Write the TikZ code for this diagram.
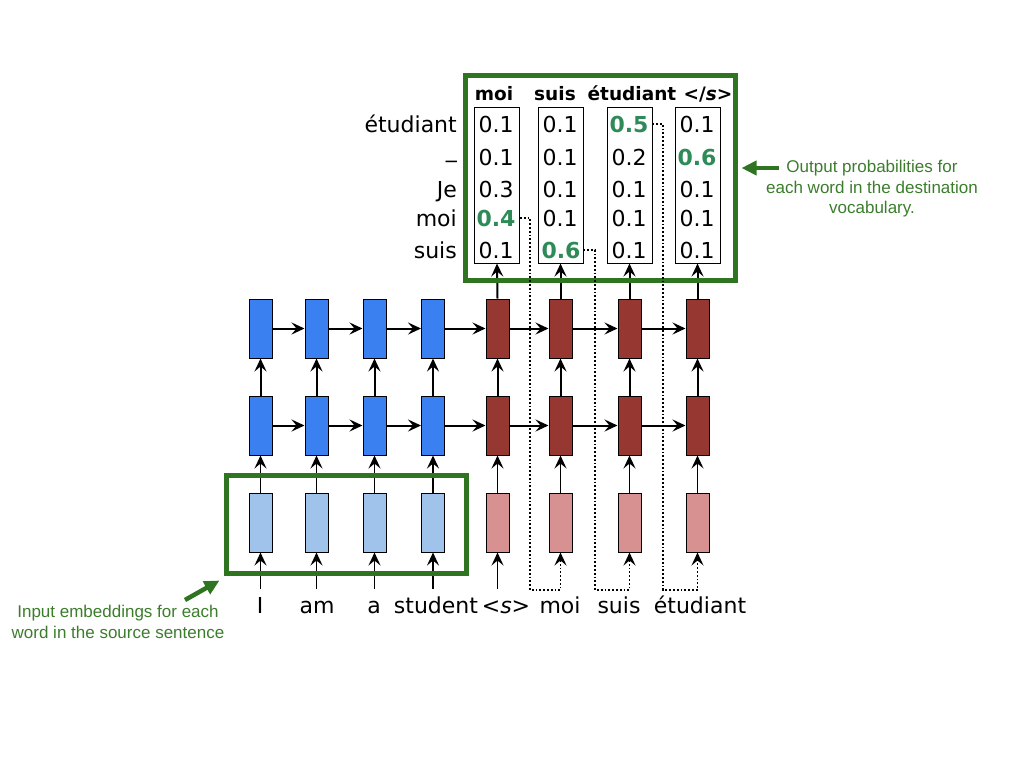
\documentclass[tikz,border=0pt]{standalone}
\usepackage{fontspec}
\setmainfont{DejaVu Sans}
\newfontfamily\annfont{Liberation Sans}
\usetikzlibrary{arrows.meta,calc}
\definecolor{encblue}{RGB}{59,128,240}
\definecolor{decred}{RGB}{150,55,50}
\definecolor{embblue}{RGB}{160,195,235}
\definecolor{embred}{RGB}{215,145,145}
\definecolor{boxgreen}{RGB}{47,116,32}
\definecolor{numgreen}{RGB}{46,139,87}
\definecolor{anngreen}{RGB}{59,125,44}
\begin{document}
\begin{tikzpicture}[x=1pt,y=-1pt,
  cell/.style={draw=black, line width=1pt, minimum width=23pt, minimum height=59pt, inner sep=0pt},
  enc/.style={cell, fill=encblue},
  dec/.style={cell, fill=decred},
  embE/.style={cell, fill=embblue},
  embD/.style={cell, fill=embred},
  arr/.style={-{Stealth[length=13pt,width=12pt,inset=5pt]}, line width=2pt},
  thinarr/.style={-{Stealth[length=13pt,width=12pt,inset=5pt]}, line width=1.8pt},
  dotarr/.style={-{Stealth[length=13pt,width=12pt,inset=5pt]}, line width=1.8pt, dotted},
  probbox/.style={draw, line width=1pt, minimum width=45pt, minimum height=156pt, inner sep=0pt},
  num/.style={font=\fontsize{22}{26}\selectfont, inner sep=0pt, anchor=base},
  gnum/.style={num, font=\fontsize{22}{26}\selectfont\bfseries, text=numgreen},
  rowlab/.style={font=\fontsize{22}{26}\selectfont, inner sep=0pt, anchor=base east},
  head/.style={font=\fontsize{18.5}{22}\selectfont\bfseries, inner sep=0pt, anchor=base},
  word/.style={font=\fontsize{22}{26}\selectfont, inner sep=0pt, anchor=base},
  greenbox/.style={draw=boxgreen, line width=5pt, inner sep=0pt},
  gbig/.style={-{Triangle[length=15pt,width=14pt]}, line width=4.5pt, draw=boxgreen},
  ann/.style={font=\annfont\fontsize{17}{20.5}\selectfont, text=anngreen, align=center, inner sep=0pt}
]
\useasboundingbox (0,0) rectangle (1024,768);

% ---------- RNN cells ----------
\foreach \i/\x in {1/260.5,2/316.5,3/374.5,4/433} {
  \node[enc]  (et\i) at (\x,328.5) {};
  \node[enc]  (em\i) at (\x,425.5) {};
  \node[embE] (ee\i) at (\x,522.5) {};
}
\foreach \i/\x in {1/497.5,2/560.5,3/629.5,4/697.5} {
  \node[dec]  (dt\i) at (\x,328.5) {};
  \node[dec]  (dm\i) at (\x,425.5) {};
  \node[embD] (de\i) at (\x,522.5) {};
}

% horizontal arrows
\foreach \r in {t,m} {
  \draw[arr] (e\r1.east) -- (e\r2.west);
  \draw[arr] (e\r2.east) -- (e\r3.west);
  \draw[arr] (e\r3.east) -- (e\r4.west);
  \draw[arr] (e\r4.east) -- (d\r1.west);
  \draw[arr] (d\r1.east) -- (d\r2.west);
  \draw[arr] (d\r2.east) -- (d\r3.west);
  \draw[arr] (d\r3.east) -- (d\r4.west);
}
% vertical arrows
\foreach \i in {1,2,3,4} {
  \draw[arr] (em\i.north) -- (et\i.south);
  \draw[arr] (dm\i.north) -- (dt\i.south);
  \draw[thinarr] (ee\i.north) -- (em\i.south);
  \draw[thinarr] (de\i.north) -- (dm\i.south);
}

% ---------- probability boxes ----------
\node[probbox] (b1) at (497,185) {};
\node[probbox] (b2) at (560.5,185) {};
\node[probbox] (b3) at (629.5,185) {};
\node[probbox] (b4) at (697.5,185) {};
\foreach \i in {1,2,3,4} { \draw[arr] (dt\i.north) -- (b\i.south); }

% headers
\node[head] (h1) at (494,100) {moi};
\node[head] (h2) at (555,100) {suis};
\node[head] (h3) at (632,100) {étudiant};
\node[head] (h4) at (708,100) {</\textit{s}>};

% row labels
\node[rowlab] (r1) at (457,132) {étudiant};
\node[rowlab] (r2) at (457,157) {\_};
\node[rowlab] (r3) at (457,197) {Je};
\node[rowlab] (r4) at (457,226) {moi};
\node[rowlab] (r5) at (457,258) {suis};

% numbers: column 1
\node[num]  (n11) at (496,132) {0.1};
\node[num]  (n12) at (496,165) {0.1};
\node[num]  (n13) at (496,197) {0.3};
\node[gnum] (n14) at (496,226) {0.4};
\node[num]  (n15) at (496,258) {0.1};
% column 2
\node[num]  (n21) at (560,132) {0.1};
\node[num]  (n22) at (560,165) {0.1};
\node[num]  (n23) at (560,197) {0.1};
\node[num]  (n24) at (560,226) {0.1};
\node[gnum] (n25) at (561,258) {0.6};
% column 3
\node[gnum] (n31) at (629,132) {0.5};
\node[num]  (n32) at (629,165) {0.2};
\node[num]  (n33) at (629,197) {0.1};
\node[num]  (n34) at (629,226) {0.1};
\node[num]  (n35) at (629,258) {0.1};
% column 4
\node[num]  (n41) at (697,132) {0.1};
\node[gnum] (n42) at (697,165) {0.6};
\node[num]  (n43) at (697,197) {0.1};
\node[num]  (n44) at (697,226) {0.1};
\node[num]  (n45) at (697,258) {0.1};

% big green box
\node[greenbox, minimum width=270pt, minimum height=205pt] (G) at (600,177.5) {};

% ---------- input words ----------
\node[word] (wI)  at (260,613) {I};
\node[word] (wam) at (317,613) {am};
\node[word] (wa)  at (374,613) {a};
\node[word] (wst) at (436,613) {student};
\node[word] (ws)  at (506,613) {<\textit{s}>};
\node[word] (wmoi) at (560,613) {moi};
\node[word] (wsuis) at (619,613) {suis};
\node[word] (wet) at (700,613) {étudiant};

\foreach \i/\x in {1/260.5,2/316.5,3/374.5,4/433} {
  \coordinate (ie\i) at (\x,589);
  \draw[thinarr] (ie\i) -- (ee\i.south);
}
\coordinate (id1) at (497.5,589);
\draw[thinarr] (id1) -- (de1.south);

% dotted feedback paths
\coordinate (k1) at (530,590);
\coordinate (k2) at (595,590);
\coordinate (k3) at (663,590);
\draw[dotarr] (b1.east |- n14) -| (k1) -| (de2.south);
\draw[dotarr] (b2.east |- n25) -| (k2) -| (de3.south);
\draw[dotarr] (b3.east |- n31) -| (k3) -| (de4.south);

% input green box
\node[greenbox, minimum width=240pt, minimum height=98pt] (G2) at (346,524) {};

% ---------- annotations ----------
\node[ann] (annR) at (872,189) {Output probabilities for\\each word in the destination\\vocabulary.};
\coordinate (aR) at (779,168);
\draw[gbig] (aR) -- ($(G.east |- aR)+(4,0)$);

\node[ann] (annL) at (118,622) {Input embeddings for each\\word in the source sentence};
\coordinate (aL) at (185,600);
\draw[gbig] (aL) -- ($(G2.south west)+(-4,5)$);
\end{tikzpicture}
\end{document}
